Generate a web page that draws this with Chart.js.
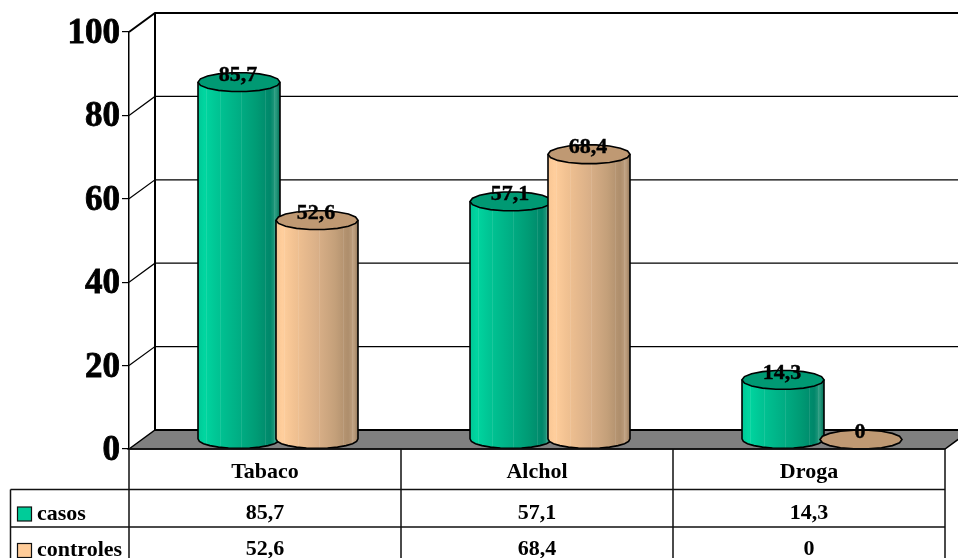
<!DOCTYPE html>
<html>
<head>
<meta charset="utf-8">
<title>Tabaco, Alchol, Droga</title>
<script src="https://cdn.jsdelivr.net/npm/chart.js@4"></script>
<style>
    html, body { margin: 0; padding: 0; background: #fff; overflow: hidden; }
    #wrap { position: relative; width: 958px; height: 558px; }
</style>
</head>
<body>
<div id="wrap"><canvas id="chart" width="958" height="558"></canvas></div>
<script>
// Data
const categories = ["Tabaco", "Alchol", "Droga"];
const seriesNames = ["casos", "controles"];
const casos = [85.7, 57.1, 14.3];
const controles = [52.6, 68.4, 0];
const yTicks = [0, 20, 40, 60, 80, 100];

const SERIF = '"Liberation Serif", "Times New Roman", serif';

// Depth of the 3D box, in pixels
const DEPTH_X = 26;
const DEPTH_Y = 19;

const LOOKS = [
    { swatch: '#00CC99', top: '#009973', stops: [
        [0, '#00C896'], [0.08, '#00D6A0'], [0.22, '#00C695'], [0.5, '#00AE84'], [0.72, '#009A74'], [0.88, '#00876A'], [0.95, '#2A9C80'], [1, '#006F56']
    ] },
    { swatch: '#FFCC99', top: '#BF9973', stops: [
        [0, '#F8C694'], [0.08, '#FFCE9C'], [0.22, '#F2C292'], [0.5, '#DAB088'], [0.72, '#C4A07A'], [0.88, '#AE8E6C'], [0.95, '#BFA080'], [1, '#94785A']
    ] }
];

// Tall thin highlights on the cylinder facets, as a fraction of the width
const FACET_LINES = [0.1, 0.27, 0.53, 0.82, 0.93];

function fmt(v) {
    return String(v).replace('.', ',');
}

// Part of an ellipse as a polygon, gives the faceted outline of the tube
function ellipsePoints(cx, cy, rx, ry, from, to, n) {
    const pts = [];
    for (let i = 0; i <= n; i++) {
        const a = from + (to - from) * i / n;
        pts.push([cx + rx * Math.cos(a), cy + ry * Math.sin(a)]);
    }
    return pts;
}

function tracePoints(ctx, pts, first) {
    pts.forEach((p, i) => {
        if (i === 0 && first) ctx.moveTo(p[0], p[1]);
        else ctx.lineTo(p[0], p[1]);
    });
}

function drawCylinder(ctx, bar, look) {
    const cx = bar.x + DEPTH_X / 2;
    const rx = bar.width / 2 + 2;
    const ry = DEPTH_Y / 2;
    const topY = bar.y - DEPTH_Y / 2;
    const baseY = bar.base - DEPTH_Y / 2;

    ctx.lineWidth = 1.6;
    ctx.strokeStyle = '#000';

    if (baseY - topY > 0.5) {
        // body
        ctx.beginPath();
        ctx.moveTo(cx - rx, topY);
        tracePoints(ctx, ellipsePoints(cx, baseY, rx, ry, Math.PI, 0, 12), false);
        ctx.lineTo(cx + rx, topY);
        ctx.closePath();
        const g = ctx.createLinearGradient(cx - rx, 0, cx + rx, 0);
        look.stops.forEach(s => g.addColorStop(s[0], s[1]));
        ctx.fillStyle = g;
        ctx.fill();

        ctx.save();
        ctx.clip();
        ctx.lineWidth = 1;
        ctx.strokeStyle = 'rgba(255,255,255,0.1)';
        FACET_LINES.forEach(f => {
            const x = Math.round(cx - rx + f * 2 * rx) + 0.5;
            ctx.beginPath();
            ctx.moveTo(x, topY);
            ctx.lineTo(x, baseY + ry);
            ctx.stroke();
        });
        ctx.restore();

        ctx.beginPath();
        ctx.moveTo(cx - rx, topY);
        ctx.lineTo(cx - rx, baseY);
        tracePoints(ctx, ellipsePoints(cx, baseY, rx, ry, Math.PI, 0, 12), false);
        ctx.lineTo(cx + rx, topY);
        ctx.stroke();
    }

    // lid
    ctx.beginPath();
    tracePoints(ctx, ellipsePoints(cx, topY, rx, ry, 0, Math.PI * 2, 18), true);
    ctx.closePath();
    ctx.fillStyle = look.top;
    ctx.fill();
    ctx.stroke();
}

// Back wall, side wall and floor, built on the y scale
const boxPlugin = {
    id: 'box',
    beforeDatasetsDraw(chart) {
        const ctx = chart.ctx;
        const y = chart.scales.y;
        const area = chart.chartArea;
        ctx.save();
        ctx.strokeStyle = '#000';

        // gridlines: diagonal on the side wall then across the back wall
        yTicks.forEach(t => {
            if (t === 0) return;
            const py = y.getPixelForValue(t);
            ctx.lineWidth = t === 100 ? 2 : 1.2;
            ctx.beginPath();
            ctx.moveTo(area.left, py);
            ctx.lineTo(area.left + DEPTH_X, py - DEPTH_Y);
            ctx.lineTo(area.right + DEPTH_X, py - DEPTH_Y);
            ctx.stroke();
        });

        // back wall left edge
        ctx.lineWidth = 2;
        ctx.beginPath();
        ctx.moveTo(area.left + DEPTH_X, y.getPixelForValue(100) - DEPTH_Y);
        ctx.lineTo(area.left + DEPTH_X, y.getPixelForValue(0) - DEPTH_Y);
        ctx.stroke();

        // floor
        const y0 = y.getPixelForValue(0);
        ctx.beginPath();
        ctx.moveTo(area.left, y0);
        ctx.lineTo(area.left + DEPTH_X, y0 - DEPTH_Y);
        ctx.lineTo(area.right + DEPTH_X, y0 - DEPTH_Y);
        ctx.lineTo(area.right, y0);
        ctx.closePath();
        ctx.fillStyle = '#808080';
        ctx.fill();
        ctx.lineWidth = 1.5;
        ctx.stroke();
        ctx.lineWidth = 2.2;
        ctx.beginPath();
        ctx.moveTo(area.left + DEPTH_X, y0 - DEPTH_Y);
        ctx.lineTo(area.right + DEPTH_X, y0 - DEPTH_Y);
        ctx.stroke();
        ctx.restore();
    }
};

const tubesPlugin = {
    id: 'tubes',
    afterDatasetsDraw(chart) {
        const ctx = chart.ctx;
        ctx.save();
        chart.data.datasets.forEach((ds, i) => {
            chart.getDatasetMeta(i).data.forEach(bar => drawCylinder(ctx, bar, LOOKS[i]));
        });

        // value labels sit on the lids
        ctx.font = 'bold 22px ' + SERIF;
        ctx.fillStyle = '#000';
        ctx.strokeStyle = '#000';
        ctx.lineWidth = 0.4;
        ctx.textAlign = 'center';
        ctx.textBaseline = 'middle';
        chart.data.datasets.forEach((ds, i) => {
            chart.getDatasetMeta(i).data.forEach((bar, j) => {
                const lx = bar.x + DEPTH_X / 2 - 1;
                const ly = bar.y - DEPTH_Y / 2 - 7;
                ctx.fillText(fmt(ds.data[j]), lx, ly);
                ctx.strokeText(fmt(ds.data[j]), lx, ly);
            });
        });
        ctx.restore();
    }
};

// Data table under the plot, columns follow the category bands
const tablePlugin = {
    id: 'table',
    afterDraw(chart) {
        const ctx = chart.ctx;
        const area = chart.chartArea;
        const top = area.bottom;
        const rows = [top, top + 40.5, top + 78];
        const keyLeft = 10.5;
        const band = (area.right - area.left) / categories.length;

        ctx.save();
        ctx.strokeStyle = '#111';
        ctx.lineWidth = 1.5;
        ctx.beginPath();
        ctx.moveTo(area.left, rows[0]);
        ctx.lineTo(area.right, rows[0]);
        ctx.moveTo(keyLeft, rows[1]);
        ctx.lineTo(area.right, rows[1]);
        ctx.moveTo(keyLeft, rows[2]);
        ctx.lineTo(area.right, rows[2]);
        ctx.moveTo(keyLeft, rows[1]);
        ctx.lineTo(keyLeft, chart.height);
        for (let i = 0; i <= categories.length; i++) {
            ctx.moveTo(area.left + band * i, rows[0]);
            ctx.lineTo(area.left + band * i, chart.height);
        }
        ctx.stroke();

        ctx.fillStyle = '#000';
        ctx.font = 'bold 22px ' + SERIF;
        ctx.textBaseline = 'middle';
        ctx.textAlign = 'center';
        categories.forEach((c, i) => {
            const mid = area.left + band * (i + 0.5);
            ctx.fillText(c, mid, rows[0] + 23);
            ctx.fillText(fmt(casos[i]), mid, rows[1] + 24);
            ctx.fillText(fmt(controles[i]), mid, rows[2] + 22);
        });

        // series keys
        ctx.textAlign = 'left';
        ctx.lineWidth = 1.2;
        seriesNames.forEach((name, i) => {
            const rowY = i === 0 ? rows[1] + 17.5 : rows[2] + 16.5;
            ctx.fillStyle = LOOKS[i].swatch;
            ctx.fillRect(17.5, rowY, 14, 14);
            ctx.strokeRect(17.5, rowY, 14, 14);
            ctx.fillStyle = '#000';
            ctx.fillText(name, 37, i === 0 ? rows[1] + 25 : rows[2] + 23);
        });
        ctx.restore();
    }
};

new Chart(document.getElementById('chart'), {
    type: 'bar',
    data: {
        labels: categories,
        datasets: [
            { label: seriesNames[0], data: casos, backgroundColor: 'transparent' },
            { label: seriesNames[1], data: controles, backgroundColor: 'transparent' }
        ]
    },
    options: {
        responsive: false,
        animation: false,
        layout: { padding: { left: 0, top: 32, right: 13, bottom: 109 } },
        categoryPercentage: 0.5735,
        barPercentage: 1,
        plugins: { legend: { display: false }, tooltip: { enabled: false } },
        scales: {
            x: { display: false },
            y: {
                min: 0,
                max: 100,
                afterFit(scale) { scale.width = 129; },
                afterBuildTicks(scale) { scale.ticks = yTicks.map(v => ({ value: v })); },
                grid: { drawOnChartArea: false, drawTicks: true, tickLength: 7, color: '#000', lineWidth: 1.2 },
                border: { display: true, color: '#000', width: 1.5 },
                ticks: {
                    padding: 2,
                    labelOffset: 2,
                    color: '#000',
                    textStrokeColor: '#000',
                    textStrokeWidth: 0.8,
                    font: { family: SERIF, size: 35, weight: 'bold' }
                }
            }
        }
    },
    plugins: [boxPlugin, tubesPlugin, tablePlugin]
});
</script>
</body>
</html>
